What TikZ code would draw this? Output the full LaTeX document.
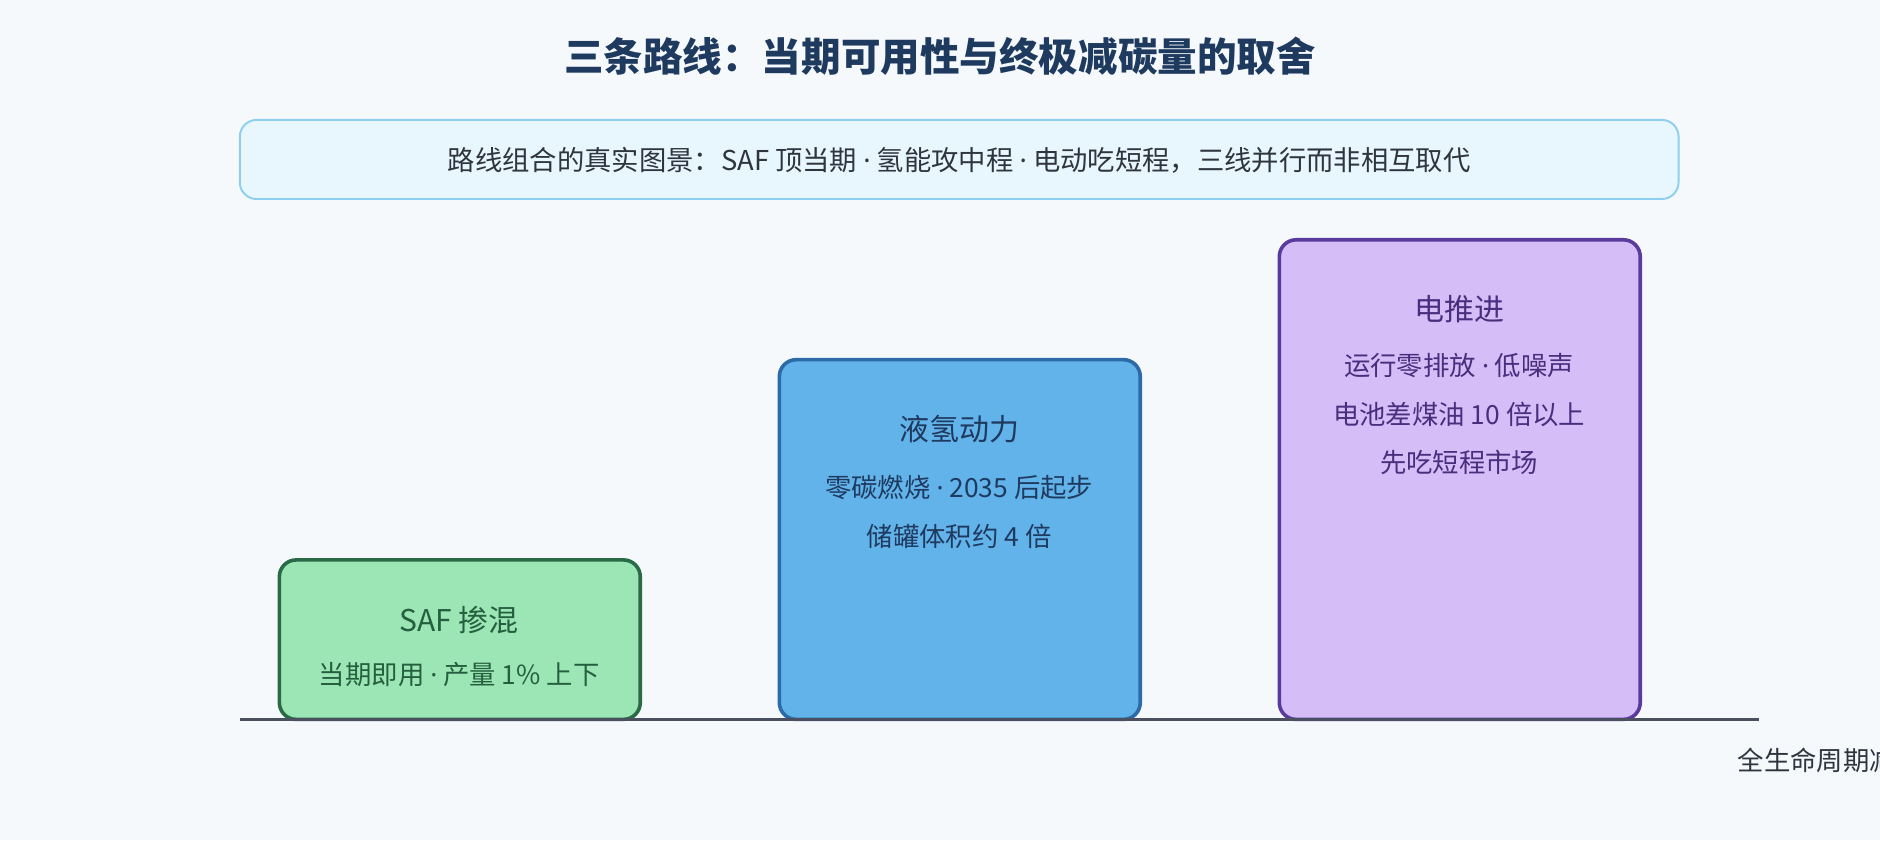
\documentclass[tikz,border=0pt]{standalone}
\usepackage{fontspec}
\setmainfont{Noto Sans CJK SC}
\newfontfamily\latinfont{Noto Sans}
\newcommand{\mdot}{{\latinfont\char"00B7}}
\usetikzlibrary{positioning}
\definecolor{bgc}{HTML}{F5F9FC}
\definecolor{titlec}{HTML}{1F3A5F}
\definecolor{textc}{HTML}{2F3540}
\definecolor{bannerf}{HTML}{E8F6FE}
\definecolor{bannerd}{HTML}{8ECFF0}
\definecolor{axisc}{HTML}{4A5060}
\definecolor{safff}{HTML}{9BE6B4}
\definecolor{safd}{HTML}{2A6A47}
\definecolor{hydf}{HTML}{62B3EA}
\definecolor{hydd}{HTML}{2C6AA8}
\definecolor{elef}{HTML}{D5BDF8}
\definecolor{eled}{HTML}{5B3A9E}
\tikzset{bar/.style={rounded corners=7pt,line width=1.5pt},
         head/.style={font=\fontsize{12.5}{15}\selectfont},
         sub/.style={font=\fontsize{11}{13}\selectfont}}

\begin{document}
\begin{tikzpicture}[x=0.5pt,y=-0.5pt]
  \fill[bgc] (0,0) rectangle (1568,701);
  \clip (0,0) rectangle (1568,701);
  \useasboundingbox (0,0) rectangle (1568,701);

  \node (title) [text=titlec,font=\fontsize{16.5}{20}\selectfont\bfseries] at (784,47)
    {三条路线：当期可用性与终极减碳量的取舍};
  \draw[bannerd,fill=bannerf,rounded corners=7pt,line width=0.8pt] (200,100) rectangle (1400,166);
  \node (banner) [text=textc,font=\fontsize{11.4}{13}\selectfont] at (800,134)
    {路线组合的真实图景：SAF 顶当期 \mdot{} 氢能攻中程 \mdot{} 电动吃短程，三线并行而非相互取代};

  % bars
  \draw[bar,draw=safd,fill=safff] (233,467) rectangle (534,600);
  \draw[bar,draw=hydd,fill=hydf] (650,300) rectangle (951,600);
  \draw[bar,draw=eled,fill=elef] (1067,200) rectangle (1368,600);

  \coordinate (ax0) at (200,600);
  \coordinate (ax1) at (1467,600);
  \draw[axisc,line width=1.5pt] (ax0) -- (ax1);

  \node (safh) [head,text=safd!90!black] at (383,517) {SAF 掺混};
  \node (saf1) [sub,text=safd!90!black] at (383,563) {当期即用 \mdot{} 产量 1\% 上下};

  \node (hydh) [head,text=titlec] at (800,358) {液氢动力};
  \node (hyd1) [sub,text=titlec] at (800,407) {零碳燃烧 \mdot{} 2035 后起步};
  \node (hyd2) [sub,text=titlec] at (800,447) {储罐体积约 4 倍};

  \node (eleh) [head,text=eled!80!black] at (1217,258) {电推进};
  \node (ele1) [sub,text=eled!80!black] at (1217,305) {运行零排放 \mdot{} 低噪声};
  \node (ele2) [sub,text=eled!80!black] at (1217,346) {电池差煤油 10 倍以上};
  \node (ele3) [sub,text=eled!80!black] at (1217,386) {先吃短程市场};

  \node (axlab) [sub,text=textc,anchor=west,inner sep=0pt] at (1449,634) {全生命周期减碳量};
\end{tikzpicture}
\end{document}
